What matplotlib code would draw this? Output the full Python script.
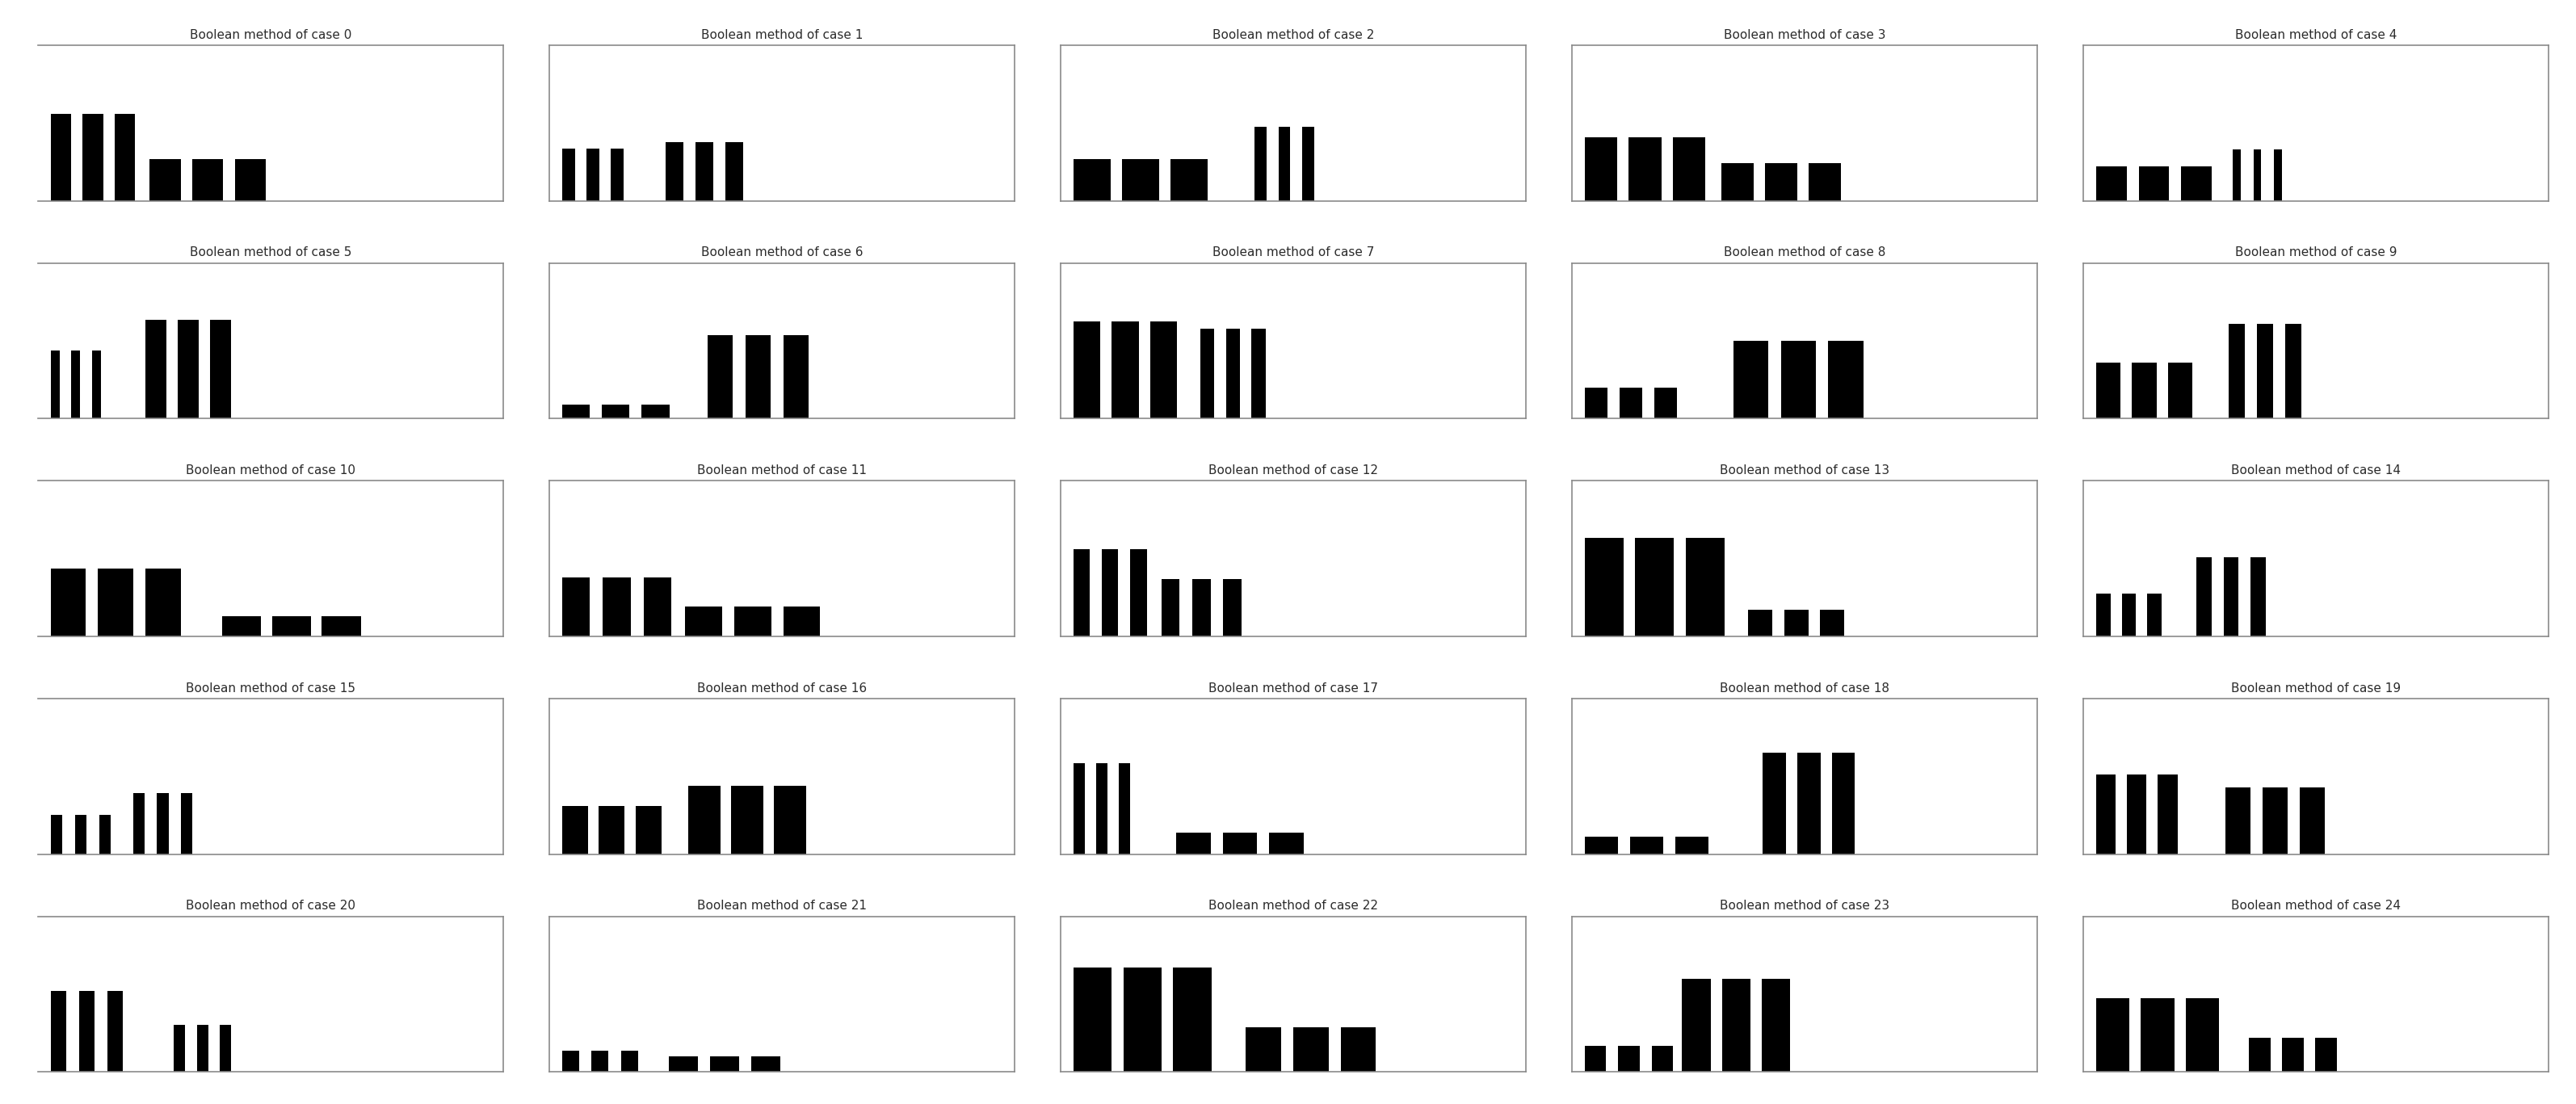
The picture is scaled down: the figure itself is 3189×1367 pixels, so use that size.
import matplotlib
matplotlib.use("Agg")
import matplotlib.pyplot as plt

# one entry per case
cases = list(range(25))

# left group of three bars: bar width, step between bars, height
left_width = [1.77, 1.10, 3.20, 2.80, 2.62, 0.76, 2.40, 2.30, 1.94, 2.11,
              3.03, 2.40, 1.40, 3.31, 1.23, 1.01, 2.23, 1.00, 2.88, 1.68,
              1.35, 1.47, 3.28, 1.83, 2.88]
left_step = [2.75, 2.08, 4.17, 3.77, 3.65, 1.77, 3.41, 3.30, 3.00, 3.08,
             4.08, 3.50, 2.45, 4.34, 2.20, 2.08, 3.16, 1.95, 3.88, 2.65,
             2.44, 2.53, 4.29, 2.88, 3.85]
left_height = [0.561, 0.337, 0.269, 0.409, 0.219, 0.439, 0.092, 0.625, 0.200, 0.360,
               0.438, 0.379, 0.559, 0.635, 0.277, 0.251, 0.312, 0.586, 0.111, 0.510,
               0.520, 0.137, 0.669, 0.170, 0.473]

# right group of three bars: start, bar width, step between bars, height
right_start = [9.62, 10.00, 16.67, 12.84, 12.84, 9.26, 13.64, 12.00, 13.87, 12.50,
               15.83, 11.70, 8.65, 15.12, 9.70, 8.17, 11.96, 9.94, 16.38, 12.21,
               11.70, 10.27, 15.92, 9.47, 14.20]
right_width = [2.66, 1.55, 1.01, 2.80, 0.68, 1.77, 2.15, 1.22, 3.02, 1.40,
               3.37, 3.16, 1.58, 2.08, 1.31, 1.01, 2.78, 2.95, 2.00, 2.14,
               0.97, 2.53, 3.03, 2.45, 1.88]
right_step = [3.66, 2.57, 2.06, 3.75, 1.77, 2.78, 3.24, 2.20, 4.08, 2.43,
              4.29, 4.21, 2.67, 3.11, 2.34, 2.06, 3.66, 4.00, 2.97, 3.20,
              1.98, 3.54, 4.08, 3.42, 2.85]
right_height = [0.269, 0.377, 0.475, 0.242, 0.333, 0.633, 0.535, 0.576, 0.498, 0.607,
                0.130, 0.194, 0.370, 0.170, 0.510, 0.393, 0.442, 0.137, 0.653, 0.428,
                0.302, 0.102, 0.286, 0.601, 0.218]

left_start = 1.1
n_bars = 3


def draw_case(ax, i):
    xs = [left_start + k * left_step[i] for k in range(n_bars)]
    ax.bar(xs, [left_height[i]] * n_bars, width=left_width[i], align="edge", color="black")
    xs = [right_start[i] + k * right_step[i] for k in range(n_bars)]
    ax.bar(xs, [right_height[i]] * n_bars, width=right_width[i], align="edge", color="black")

    ax.set_xlim(0, 40)
    ax.set_ylim(0, 1)
    ax.set_xticks([])
    ax.set_yticks([])
    for sp in ax.spines.values():
        sp.set_color("#8a8a8a")
        sp.set_linewidth(1.2)
    ax.set_title(f"Boolean method of case {cases[i]}", fontsize=11, color="#2b2b2b", pad=6)


fig, axes = plt.subplots(5, 5, figsize=(31.89, 13.67), dpi=100)
fig.subplots_adjust(left=0.0147, right=0.9894, bottom=0.029, top=0.959, wspace=0.099, hspace=0.4)

for i, ax in enumerate(axes.flat):
    draw_case(ax, i)
    if i % 5 == 0:
        ax.spines["left"].set_visible(False)

fig.savefig("out.png", dpi=100)
